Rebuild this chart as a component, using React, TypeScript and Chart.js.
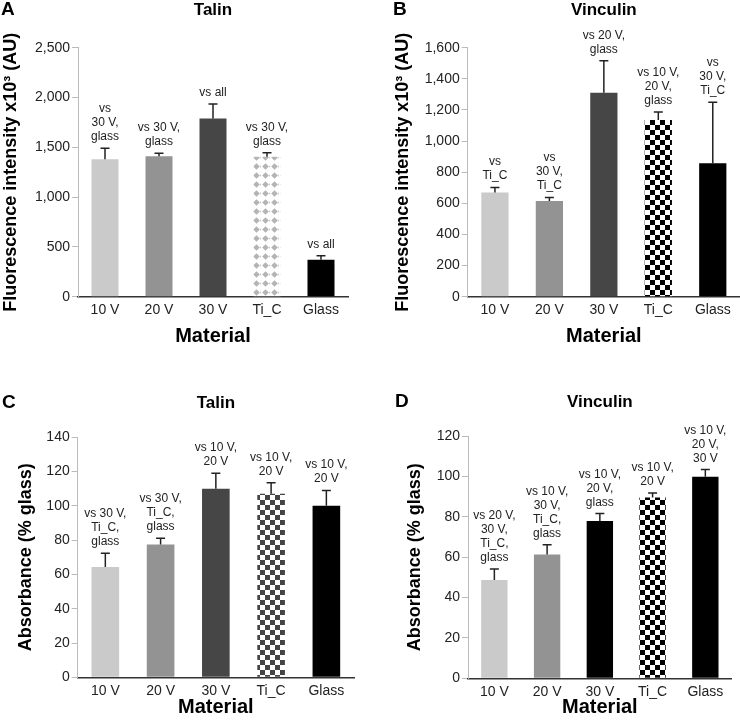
import React, { useEffect, useRef } from "react";
import { Chart, registerables } from "chart.js";

Chart.register(...registerables);

const FONT = '"Liberation Sans", Arial, Helvetica, sans-serif';

// ---------- data ----------
const categories = ["10 V", "20 V", "30 V", "Ti_C", "Glass"];

const talinFluorMeans = [1380, 1410, 1790, 1405, 370];
const talinFluorErrors = [110, 30, 145, 40, 42];
const talinFluorNotes = [
  ["vs", "30 V,", "glass"],
  ["vs 30 V,", "glass"],
  ["vs all"],
  ["vs 30 V,", "glass"],
  ["vs all"],
];
const talinFluorTicks = { max: 2500, step: 500 };

const vinculinFluorMeans = [670, 615, 1310, 1135, 857];
const vinculinFluorErrors = [32, 23, 206, 52, 392];
const vinculinFluorNotes = [
  ["vs", "Ti_C"],
  ["vs", "30 V,", "Ti_C"],
  ["vs 20 V,", "glass"],
  ["vs 10 V,", "20 V,", "glass"],
  ["vs", "30 V,", "Ti_C"],
];
const vinculinFluorTicks = { max: 1600, step: 200 };

const talinAbsMeans = [64.4, 77.4, 110, 107, 100];
const talinAbsErrors = [8, 3.7, 9, 6.5, 9];
const talinAbsNotes = [
  ["vs 30 V,", "Ti_C,", "glass"],
  ["vs 30 V,", "Ti_C,", "glass"],
  ["vs 10 V,", "20 V"],
  ["vs 10 V,", "20 V"],
  ["vs 10 V,", "20 V"],
];
const talinAbsTicks = { max: 140, step: 20 };

const vinculinAbsMeans = [48.7, 61.4, 78, 89.6, 100];
const vinculinAbsErrors = [5.5, 4.8, 3.7, 2.3, 3.5];
const vinculinAbsNotes = [
  ["vs 20 V,", "30 V,", "Ti_C,", "glass"],
  ["vs 10 V,", "30 V,", "Ti_C,", "glass"],
  ["vs 10 V,", "20 V,", "glass"],
  ["vs 10 V,", "20 V"],
  ["vs 10 V,", "20 V,", "30 V"],
];
const vinculinAbsTicks = { max: 120, step: 20 };

const fluorTitle = "Fluorescence intensity x10\u00B3 (AU)";
const absTitle = "Absorbance (% glass)";
const xTitle = "Material";

// ---------- styles ----------
type FillSpec = string | { pattern: "checker" | "diamond"; color: string };

const fillsA: FillSpec[] = ["#cacaca", "#939393", "#464646", { pattern: "diamond", color: "#b4b4b4" }, "#000000"];
const fillsB: FillSpec[] = ["#cacaca", "#939393", "#464646", { pattern: "checker", color: "#000000" }, "#000000"];
const fillsC: FillSpec[] = ["#cacaca", "#939393", "#464646", { pattern: "checker", color: "#444444" }, "#000000"];
const fillsD: FillSpec[] = ["#cacaca", "#939393", "#000000", { pattern: "checker", color: "#000000" }, "#000000"];

function makePattern(spec: FillSpec): string | CanvasPattern {
  if (typeof spec === "string") return spec;
  const c = document.createElement("canvas");
  const g = c.getContext("2d")!;
  if (spec.pattern === "checker") {
    c.width = 10;
    c.height = 10;
    g.fillStyle = "#ffffff";
    g.fillRect(0, 0, 10, 10);
    g.fillStyle = spec.color;
    g.fillRect(0, 0, 5, 5);
    g.fillRect(5, 5, 5, 5);
  } else {
    c.width = 9;
    c.height = 9;
    g.fillStyle = "#ffffff";
    g.fillRect(0, 0, 9, 9);
    g.fillStyle = spec.color;
    g.beginPath();
    g.moveTo(4.5, 1.2);
    g.lineTo(7.8, 4.5);
    g.lineTo(4.5, 7.8);
    g.lineTo(1.2, 4.5);
    g.closePath();
    g.fill();
    g.globalAlpha = 0.7;
    g.beginPath();
    g.moveTo(9, 3);
    g.lineTo(7.8, 4.5);
    g.lineTo(9, 6);
    g.closePath();
    g.fill();
  }
  return g.createPattern(c, "repeat")!;
}

interface PanelProps {
  letter: string;
  title: string;
  yTitle: string;
  means: number[];
  errors: number[];
  notes: string[][];
  ticks: { max: number; step: number };
  fills: FillSpec[];
  box: { left: number; top: number; width: number; height: number };
  area: { left: number; right: number; top: number; bottom: number };
  yTitleCenter: number;
  letterPos: { x: number; y: number };
  titleY: number;
  xTitleCenter: number;
}

function Panel(p: PanelProps) {
  const ref = useRef<HTMLCanvasElement | null>(null);
  useEffect(() => {
    if (!ref.current) return;
    const W = p.box.width;
    const H = p.box.height;
    const overlay = {
      id: "overlay" + p.letter,
      afterDraw(chart: any) {
        const ctx = chart.ctx as CanvasRenderingContext2D;
        const ys = chart.scales.y;
        const meta = chart.getDatasetMeta(0);
        const ca = chart.chartArea;
        ctx.save();
        // error bars
        ctx.strokeStyle = "#222";
        ctx.lineWidth = 1.5;
        meta.data.forEach((bar: any, i: number) => {
          const x = bar.x;
          const yTop = ys.getPixelForValue(p.means[i]);
          const yErr = ys.getPixelForValue(p.means[i] + p.errors[i]);
          ctx.beginPath();
          ctx.moveTo(x, yTop);
          ctx.lineTo(x, yErr);
          ctx.moveTo(x - 4.5, yErr);
          ctx.lineTo(x + 4.5, yErr);
          ctx.stroke();
          // notes
          ctx.fillStyle = "#222";
          ctx.font = `12px ${FONT}`;
          ctx.textAlign = "center";
          ctx.textBaseline = "alphabetic";
          const lines = p.notes[i];
          const base = yErr - 8;
          lines.forEach((t, k) => {
            ctx.fillText(t, x, base - (lines.length - 1 - k) * 14);
          });
        });
        // panel letter
        ctx.fillStyle = "#000";
        ctx.font = `bold 19px ${FONT}`;
        ctx.textAlign = "left";
        ctx.textBaseline = "middle";
        ctx.fillText(p.letter, p.letterPos.x, p.letterPos.y);
        // title
        ctx.font = `bold 17px ${FONT}`;
        ctx.textAlign = "center";
        ctx.fillText(p.title, (ca.left + ca.right) / 2, p.titleY);
        ctx.restore();
      },
    };
    const chart = new Chart(ref.current, {
      type: "bar",
      data: {
        labels: categories,
        datasets: [
          {
            data: p.means,
            backgroundColor: p.fills.map(makePattern) as any,
            borderWidth: 0,
            barPercentage: 0.5,
            categoryPercentage: 1,
          },
        ],
      },
      options: {
        animation: false,
        responsive: false,
        maintainAspectRatio: false,
        devicePixelRatio: 1,
        layout: { padding: { left: 0, top: p.area.top, right: W - p.area.right, bottom: 0 } },
        plugins: {
          legend: { display: false },
          tooltip: { enabled: false },
          title: { display: false },
        },
        scales: {
          x: {
            grid: { display: false, drawTicks: false },
            border: { display: true, color: "#333", width: 1.5 },
            ticks: {
              color: "#222",
              font: { size: 14, family: FONT },
              padding: 5,
              maxRotation: 0,
              autoSkip: false,
            },
            title: {
              display: true,
              text: xTitle,
              color: "#000",
              font: { size: 20, weight: "bold", family: FONT },
              padding: { top: 0, bottom: H - p.xTitleCenter - 12 },
            },
            afterFit: (s: any) => {
              s.height = H - p.area.bottom;
            },
          } as any,
          y: {
            min: 0,
            max: p.ticks.max,
            ticks: {
              stepSize: p.ticks.step,
              color: "#222",
              font: { size: 14, family: FONT },
              padding: 2,
              callback: (v: any) => Number(v).toLocaleString("en-US"),
            },
            grid: { display: true, drawOnChartArea: false, drawTicks: true, tickLength: 6, color: "#bbbbbb" },
            border: { display: true, color: "#bbbbbb", width: 1 },
            title: {
              display: true,
              text: p.yTitle,
              color: "#000",
              font: { size: 18, weight: "bold", family: FONT },
              padding: { top: Math.max(0, p.yTitleCenter - 10.8), bottom: 0 },
            },
            afterFit: (s: any) => {
              s.width = p.area.left;
            },
          } as any,
        },
      },
      plugins: [overlay],
    });
    return () => chart.destroy();
  }, []);
  return (
    <canvas
      ref={ref}
      width={p.box.width}
      height={p.box.height}
      style={{
        position: "absolute",
        left: p.box.left,
        top: p.box.top,
        width: p.box.width,
        height: p.box.height,
      }}
    />
  );
}

export default function App() {
  Chart.defaults.font.family = FONT;
  return (
    <div style={{ position: "absolute", left: 0, top: 0, width: 740, height: 722, background: "#fff" }}>
      <Panel
        letter="A"
        title="Talin"
        yTitle={fluorTitle}
        means={talinFluorMeans}
        errors={talinFluorErrors}
        notes={talinFluorNotes}
        ticks={talinFluorTicks}
        fills={fillsA}
        box={{ left: 0, top: 0, width: 370, height: 350 }}
        area={{ left: 78, right: 348, top: 47.7, bottom: 296.7 }}
        yTitleCenter={10}
        letterPos={{ x: 1, y: 10 }}
        titleY={10}
        xTitleCenter={336}
      />
      <Panel
        letter="B"
        title="Vinculin"
        yTitle={fluorTitle}
        means={vinculinFluorMeans}
        errors={vinculinFluorErrors}
        notes={vinculinFluorNotes}
        ticks={vinculinFluorTicks}
        fills={fillsB}
        box={{ left: 370, top: 0, width: 370, height: 350 }}
        area={{ left: 97.7, right: 370, top: 47.7, bottom: 296.7 }}
        yTitleCenter={33.5}
        letterPos={{ x: 23, y: 10 }}
        titleY={10.5}
        xTitleCenter={336}
      />
      <Panel
        letter="C"
        title="Talin"
        yTitle={absTitle}
        means={talinAbsMeans}
        errors={talinAbsErrors}
        notes={talinAbsNotes}
        ticks={talinAbsTicks}
        fills={fillsC}
        box={{ left: 0, top: 360, width: 370, height: 362 }}
        area={{ left: 77.7, right: 354, top: 77.3, bottom: 317.3 }}
        yTitleCenter={25.7}
        letterPos={{ x: 2, y: 43 }}
        titleY={43.5}
        xTitleCenter={347}
      />
      <Panel
        letter="D"
        title="Vinculin"
        yTitle={absTitle}
        means={vinculinAbsMeans}
        errors={vinculinAbsErrors}
        notes={vinculinAbsNotes}
        ticks={vinculinAbsTicks}
        fills={fillsD}
        box={{ left: 370, top: 360, width: 370, height: 362 }}
        area={{ left: 98, right: 361.7, top: 76.3, bottom: 318.3 }}
        yTitleCenter={45.5}
        letterPos={{ x: 25, y: 42 }}
        titleY={42}
        xTitleCenter={347}
      />
    </div>
  );
}
